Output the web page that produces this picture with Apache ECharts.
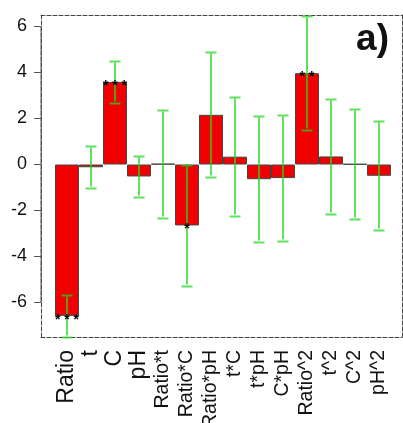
<!DOCTYPE html>
<html><head><meta charset="utf-8">
<script src="https://cdn.jsdelivr.net/npm/echarts@6/dist/echarts.min.js"></script>
<style>html,body{margin:0;padding:0;background:#fff}#c{width:403px;height:423px}</style>
</head><body><div id="c"></div>
<script>
const categories = ['Ratio','t','C','pH','Ratio*t','Ratio*C','Ratio*pH','t*C','t*pH','C*pH','Ratio^2','t^2','C^2','pH^2'];
const effects = [-6.58,-0.12,3.59,-0.52,0.03,-2.65,2.16,0.34,-0.64,-0.59,3.97,0.35,0.02,-0.49];
const errHalf = [0.90,0.91,0.91,0.91,2.35,2.63,2.72,2.60,2.75,2.73,2.48,2.49,2.41,2.37];
const significance = ['* * *','','* * *','','','*','','','','','* *','','',''];
const yTicks = [-6,-4,-2,0,2,4,6];
const yMin = -7.5, yMax = 6.5;
const mainTerms = 4;
const panelLabel = 'a)';

const FONT = 'Liberation Sans, Arial, sans-serif';
const dashed = () => ({color:'#444', width:1, type:[4,2]});
const ERR = 'rgba(30,215,30,0.72)';
const chart = echarts.init(document.getElementById('c'), null, {renderer:'canvas'});
chart.setOption({
  animation:false,
  title:{text:panelLabel, right:9, top:16, textStyle:{fontFamily:FONT, fontSize:37, fontWeight:'bold', color:'#111'}},
  grid:[
    {left:55, right:12, top:15, bottom:86, outerBoundsMode:'none', containLabel:false},
    {left:41, right:1, top:15, bottom:86, outerBoundsMode:'none', containLabel:false}
  ],
  xAxis:[
    {type:'category', gridIndex:0, data:categories, boundaryGap:true,
     axisLine:{show:false, onZero:false}, axisTick:{show:false}, splitLine:{show:false},
     axisLabel:{rotate:90, interval:0, margin:13, color:'#111', fontFamily:FONT, hideOverlap:false,
       formatter:(v,i)=> i < mainTerms ? '{big|'+v+'}' : '{small|'+v+'}',
       rich:{big:{fontSize:23, fontFamily:FONT, color:'#111'}, small:{fontSize:19.5, fontFamily:FONT, color:'#111'}}}},
    {type:'value', gridIndex:1, min:0, max:1, position:'bottom',
     axisLine:{show:true, onZero:false, lineStyle:dashed()}, axisTick:{show:false}, axisLabel:{show:false}, splitLine:{show:false}},
    {type:'value', gridIndex:1, min:0, max:1, position:'top',
     axisLine:{show:true, onZero:false, lineStyle:dashed()}, axisTick:{show:false}, axisLabel:{show:false}, splitLine:{show:false}}
  ],
  yAxis:[
    {type:'value', gridIndex:0, min:yMin, max:yMax, show:false},
    {type:'value', gridIndex:1, min:yMin, max:yMax, position:'left',
     axisLine:{show:true, onZero:false, lineStyle:dashed()},
     axisTick:{show:true, length:7, customValues:yTicks, lineStyle:{color:'#555'}},
     axisLabel:{show:true, customValues:yTicks, margin:14, fontSize:18, fontFamily:FONT, color:'#111'},
     splitLine:{show:false}},
    {type:'value', gridIndex:1, min:yMin, max:yMax, position:'right',
     axisLine:{show:true, onZero:false, lineStyle:dashed()}, axisTick:{show:false}, axisLabel:{show:false}, splitLine:{show:false}}
  ],
  series:[
    {type:'line', xAxisIndex:1, yAxisIndex:1, data:[[0, yTicks[0]],[0, yTicks[yTicks.length-1]]],
     symbol:'none', lineStyle:{color:'#555', width:1}, z:3, silent:true},
    {type:'bar', xAxisIndex:0, yAxisIndex:0, data:effects, barWidth:'100%', barCategoryGap:'0%',
     itemStyle:{color:'#f00000', borderColor:'#444', borderWidth:1}, z:2},
    {type:'custom', xAxisIndex:0, yAxisIndex:0, z:4, clip:false,
     data:categories.map((c,i)=>[i, effects[i], errHalf[i]]),
     renderItem:(params, api)=>{
       const i = api.value(0), c = api.value(1), h = api.value(2);
       const t = api.coord([i, c+h]), b = api.coord([i, c-h]);
       const x = Math.round(t[0]), w = 5;
       const yt = Math.round(t[1]), yb = Math.round(b[1]);
       return {type:'group', children:[
         {type:'rect', shape:{x:x-1, y:yt+1.5, width:2, height:yb-yt-3}, style:{fill:ERR}},
         {type:'rect', shape:{x:x-w-0.5, y:yt-0.5, width:2*w+1, height:2}, style:{fill:ERR}},
         {type:'rect', shape:{x:x-w-0.5, y:yb-0.5, width:2*w+1, height:2}, style:{fill:ERR}}
       ]};
     }},
    {type:'custom', xAxisIndex:0, yAxisIndex:0, z:5,
     data:categories.map((c,i)=>[i, effects[i]]),
     renderItem:(params, api)=>{
       const p = api.coord([api.value(0), api.value(1)]);
       return {type:'text', x:p[0], y:p[1]+4, style:{text:significance[params.dataIndex], align:'center', verticalAlign:'middle', fontSize:14, fontWeight:'bold', fontFamily:FONT, fill:'#000'}};
     }}
  ]
});
</script></body></html>
